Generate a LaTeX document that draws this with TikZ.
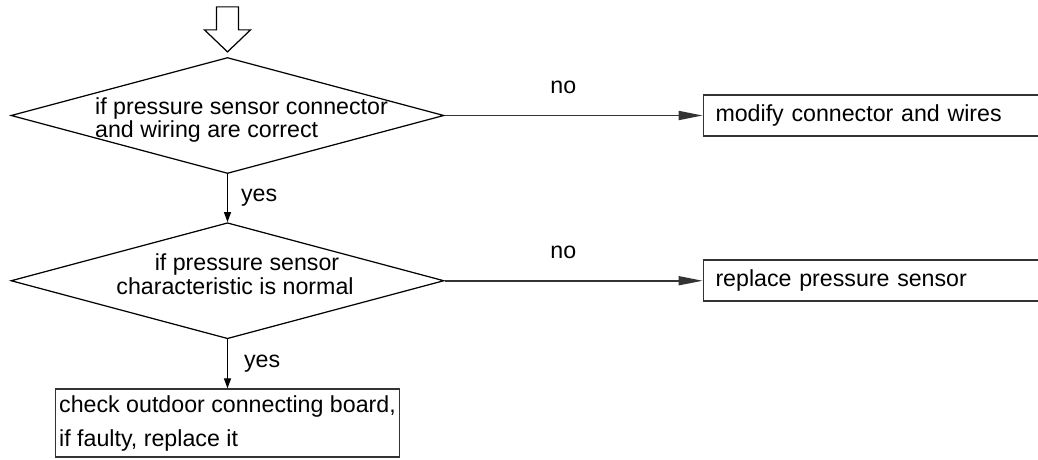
\documentclass[tikz,border=0pt]{standalone}
\usepackage{fontspec}
\setmainfont{Liberation Sans}
\usetikzlibrary{positioning, arrows.meta, shapes.geometric, calc}

\begin{document}
\begin{tikzpicture}[
    font=\fontsize{13.2pt}{13.5pt}\selectfont,
    decision/.style={draw, diamond, line width=0.7pt, minimum width=8.66cm, minimum height=2.32cm, inner sep=0pt},
    qtext/.style={inner sep=0pt},
    box/.style={draw=black!80, rectangle, line width=1pt, inner xsep=0.24cm, text width=6.52cm, align=left, minimum height=0.82cm},
    endbox/.style={draw=black!80, rectangle, line width=1pt, inner sep=0pt, minimum width=6.88cm, align=left, minimum height=1.36cm, font=\fontsize{13.2pt}{19.5pt}\selectfont},
    arr/.style={-{Triangle[length=0.48cm, width=0.18cm]}, line width=0.9pt, draw=black!80},
    down/.style={-{Triangle[length=0.2cm, width=0.14cm]}, line width=0.7pt},
    lbl/.style={inner sep=0pt}
]
    \clip (0,0) rectangle (20.76,-9.18);

    % questions
    \node[decision] (q1) at (4.55,-2.31) {};
    \node[qtext, align=left] (q1text) at ([xshift=0.28cm, yshift=-0.09cm]q1.center) {if pressure sensor connector\\and wiring are correct};
    \node[decision] (q2) [below=0.96cm of q1] {};
    \node[qtext, align=center] (q2text) at ([xshift=0.15cm, yshift=0.13cm]q2.center) {\hspace*{0.48cm}if pressure sensor\\characteristic is normal};

    % actions
    \node[box] (fix1) [right=5.16cm of q1] {modify connector and wires};
    \node[box] (fix2) [right=5.16cm of q2] {replace pressure sensor};
    \node[endbox] (check) [below=0.98cm of q2] {check outdoor connecting board,\\if faulty, replace it};

    % entry arrow
    \draw[line width=0.7pt] ([yshift=0.1cm]q1.north) coordinate (entry) -- ++(-0.46,0.44) -- ++(0.24,0) -- ++(0,0.46) -- ++(0.44,0) -- ++(0,-0.46) -- ++(0.24,0) -- cycle;

    \draw[arr] (q1.east) -- node[lbl, above=0.42cm, pos=0.46] (no1) {no} (fix1.west);
    \draw[arr] (q2.east) -- node[lbl, above=0.42cm, pos=0.46] (no2) {no} (fix2.west);
    \draw[down] (q1.south) -- node[lbl, right=0.26cm] (yes1) {yes} (q2.north);
    \draw[down] (q2.south) -- node[lbl, right=0.32cm] (yes2) {yes} (check.north);
\end{tikzpicture}
\end{document}
